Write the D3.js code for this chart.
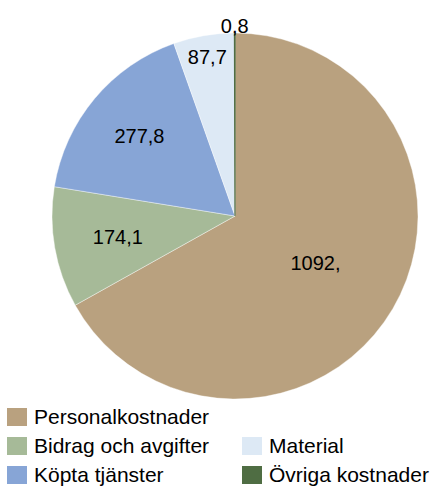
<!DOCTYPE html>
<html>
<head>
<meta charset="utf-8">
<script src="https://cdn.jsdelivr.net/npm/d3@7"></script>
<style>
  html, body { margin: 0; padding: 0; background: #fff; }
  svg { display: block; font-family: "Liberation Sans", Arial, sans-serif; }
</style>
</head>
<body>
<svg id="chart" width="433" height="486"></svg>
<script>
var categories = ["Personalkostnader", "Bidrag och avgifter", "Köpta tjänster", "Material", "Övriga kostnader"];
var values = [1092, 174.1, 277.8, 87.7, 0.8];
var valueLabels = ["1092,", "174,1", "277,8", "87,7", "0,8"];
var colors = ["#B9A17F", "#A6BA98", "#87A5D6", "#DDE9F5", "#4F6D43"];
// label distance from centre, as share of the radius (Excel "best fit")
var labelRadius = [0.51, 0.65, 0.68, 0.885, 1.04];
// legend grid: [column, row]
var legendCell = [[0, 0], [0, 1], [0, 2], [1, 1], [1, 2]];

var svg = d3.select("#chart");
var cx = 235, cy = 216, R = 183;

var data = categories.map(function (c, i) {
	return { name: c, value: values[i], label: valueLabels[i], color: colors[i], lr: labelRadius[i], cell: legendCell[i] };
});

var pie = d3.pie().sort(null).value(function (d) { return d.value; });
var arc = d3.arc().innerRadius(0).outerRadius(R);
var arcs = pie(data);

var g = svg.append("g").attr("transform", "translate(" + cx + "," + cy + ")");

g.selectAll("path.slice")
	.data(arcs)
	.enter().append("path")
	.attr("class", "slice")
	.attr("d", arc)
	.attr("fill", function (d) { return d.data.color; })
	.attr("stroke", function (d, i) { return i === 4 ? d.data.color : "#fff"; })
	.attr("stroke-width", function (d, i) { return i === 4 ? 1.2 : 0.4; });

g.selectAll("text.val")
	.data(arcs)
	.enter().append("text")
	.attr("class", "val")
	.attr("transform", function (d) {
		var r = R * d.data.lr;
		var p = d3.arc().innerRadius(r).outerRadius(r).centroid(d);
		return "translate(" + p[0] + "," + p[1] + ")";
	})
	.attr("text-anchor", "middle")
	.attr("dy", "0.36em")
	.attr("font-size", 20)
	.attr("fill", "#000")
	.text(function (d) { return d.data.label; });

var colX = [7, 242], rowY = [408, 437, 466];
var leg = svg.selectAll("g.leg")
	.data(data)
	.enter().append("g")
	.attr("class", "leg")
	.attr("transform", function (d) {
		return "translate(" + colX[d.cell[0]] + "," + rowY[d.cell[1]] + ")";
	});

leg.append("rect")
	.attr("width", 20)
	.attr("height", 18)
	.attr("fill", function (d) { return d.color; });

leg.append("text")
	.attr("x", 27)
	.attr("y", 16)
	.attr("font-size", 21)
	.attr("fill", "#000")
	.text(function (d) { return d.name; });
</script>
</body>
</html>
